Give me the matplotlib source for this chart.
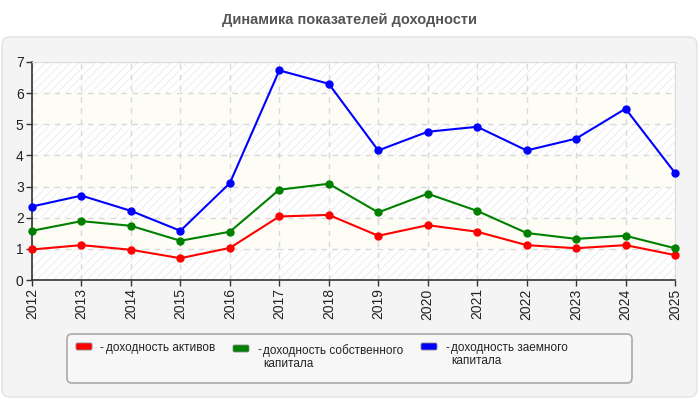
import numpy as np
import matplotlib.pyplot as plt
from matplotlib.patches import FancyBboxPatch

plt.rcParams['font.family'] = ['Liberation Sans', 'DejaVu Sans']
plt.rcParams['hatch.color'] = '#ebebeb'
plt.rcParams['hatch.linewidth'] = 0.6

# данные
years = [2012, 2013, 2014, 2015, 2016, 2017, 2018, 2019, 2020, 2021, 2022, 2023, 2024, 2025]
roa = [0.98, 1.12, 0.97, 0.70, 1.03, 2.04, 2.09, 1.42, 1.76, 1.55, 1.12, 1.02, 1.12, 0.80]
roe = [1.58, 1.89, 1.74, 1.26, 1.55, 2.90, 3.09, 2.17, 2.77, 2.22, 1.51, 1.32, 1.42, 1.02]
rod = [2.36, 2.71, 2.22, 1.58, 3.11, 6.73, 6.30, 4.16, 4.76, 4.92, 4.16, 4.54, 5.50, 3.44]
labels = ['доходность активов', 'доходность собственного\nкапитала', 'доходность заемного\nкапитала']
colors = ['#ff0000', '#008000', '#0000ff']
title = 'Динамика показателей доходности'

fig = plt.figure(figsize=(7, 4), dpi=100)
fig.patch.set_facecolor('white')

# серая подложка
panel = FancyBboxPatch((0.02, 0.03), 6.95, 3.6, boxstyle='round,pad=0,rounding_size=0.08',
                       transform=fig.dpi_scale_trans, facecolor='#f4f4f4', edgecolor='#e2e2e2',
                       linewidth=1, zorder=0)
fig.patches.append(panel)

fig.text(0.5, 0.95, title, ha='center', va='center', fontsize=10.5, fontweight='bold', color='#555555')

ax = fig.add_axes([32 / 700, 1 - 280 / 400, 643 / 700, 218 / 400])
ax.set_zorder(3)
ax.set_facecolor('white')

# полосы фона
for k in range(7):
    if k % 2 == 0:
        ax.axhspan(k, k + 1, facecolor='white', hatch='////', edgecolor='#ebebeb', linewidth=0, zorder=0)
    else:
        ax.axhspan(k, k + 1, facecolor='#fdfdf6', linewidth=0, zorder=0)

for vals, c in zip([roa, roe, rod], colors):
    ax.plot(years, vals, color=c, lw=1.5, marker='o', markersize=5, zorder=3, clip_on=False)

ax.set_xlim(2012, 2025)
ax.set_ylim(0, 7)
ax.set_xticks(years)
ax.set_xticklabels([str(y) for y in years], rotation=90)
ax.set_yticks(range(8))
ax.grid(True, color='#d9d9d9', linestyle=(0, (4, 4)), linewidth=1.0, zorder=1)
ax.set_axisbelow(True)
ax.tick_params(axis='both', labelsize=10, length=4, width=1, color='#333333', labelcolor='#222222', pad=2)
for s in ['left', 'bottom']:
    ax.spines[s].set_color('#333333')
    ax.spines[s].set_linewidth(1.2)
for s in ['top', 'right']:
    ax.spines[s].set_color('#dddddd')

# легенда
leg = FancyBboxPatch((0.67, 0.17), 5.65, 0.49, boxstyle='round,pad=0,rounding_size=0.05',
                     transform=fig.dpi_scale_trans, facecolor='#f7f7f7', edgecolor='#aaaaaa',
                     linewidth=1.2, zorder=1)
fig.patches.append(leg)

patch_x = [76, 233, 421]
patch_y = [343, 345, 343]
for px, py, lab, c in zip(patch_x, patch_y, labels, colors):
    fig.patches.append(FancyBboxPatch((px / 100, (400 - py - 7) / 100), 0.16, 0.07,
                                      boxstyle='round,pad=0,rounding_size=0.015',
                                      transform=fig.dpi_scale_trans, facecolor=c,
                                      edgecolor='#888888', linewidth=0.6, zorder=2))
    fig.text((px + 24) / 700, 1 - (py - 1) / 400, '-', ha='left', va='top', fontsize=8.5, color='#222222')
    fig.text((px + 30) / 700, 1 - (py - 1) / 400, lab, ha='left', va='top', fontsize=8.5,
             color='#222222', linespacing=1.1)

fig.savefig('out.png', dpi=100, facecolor='white')
